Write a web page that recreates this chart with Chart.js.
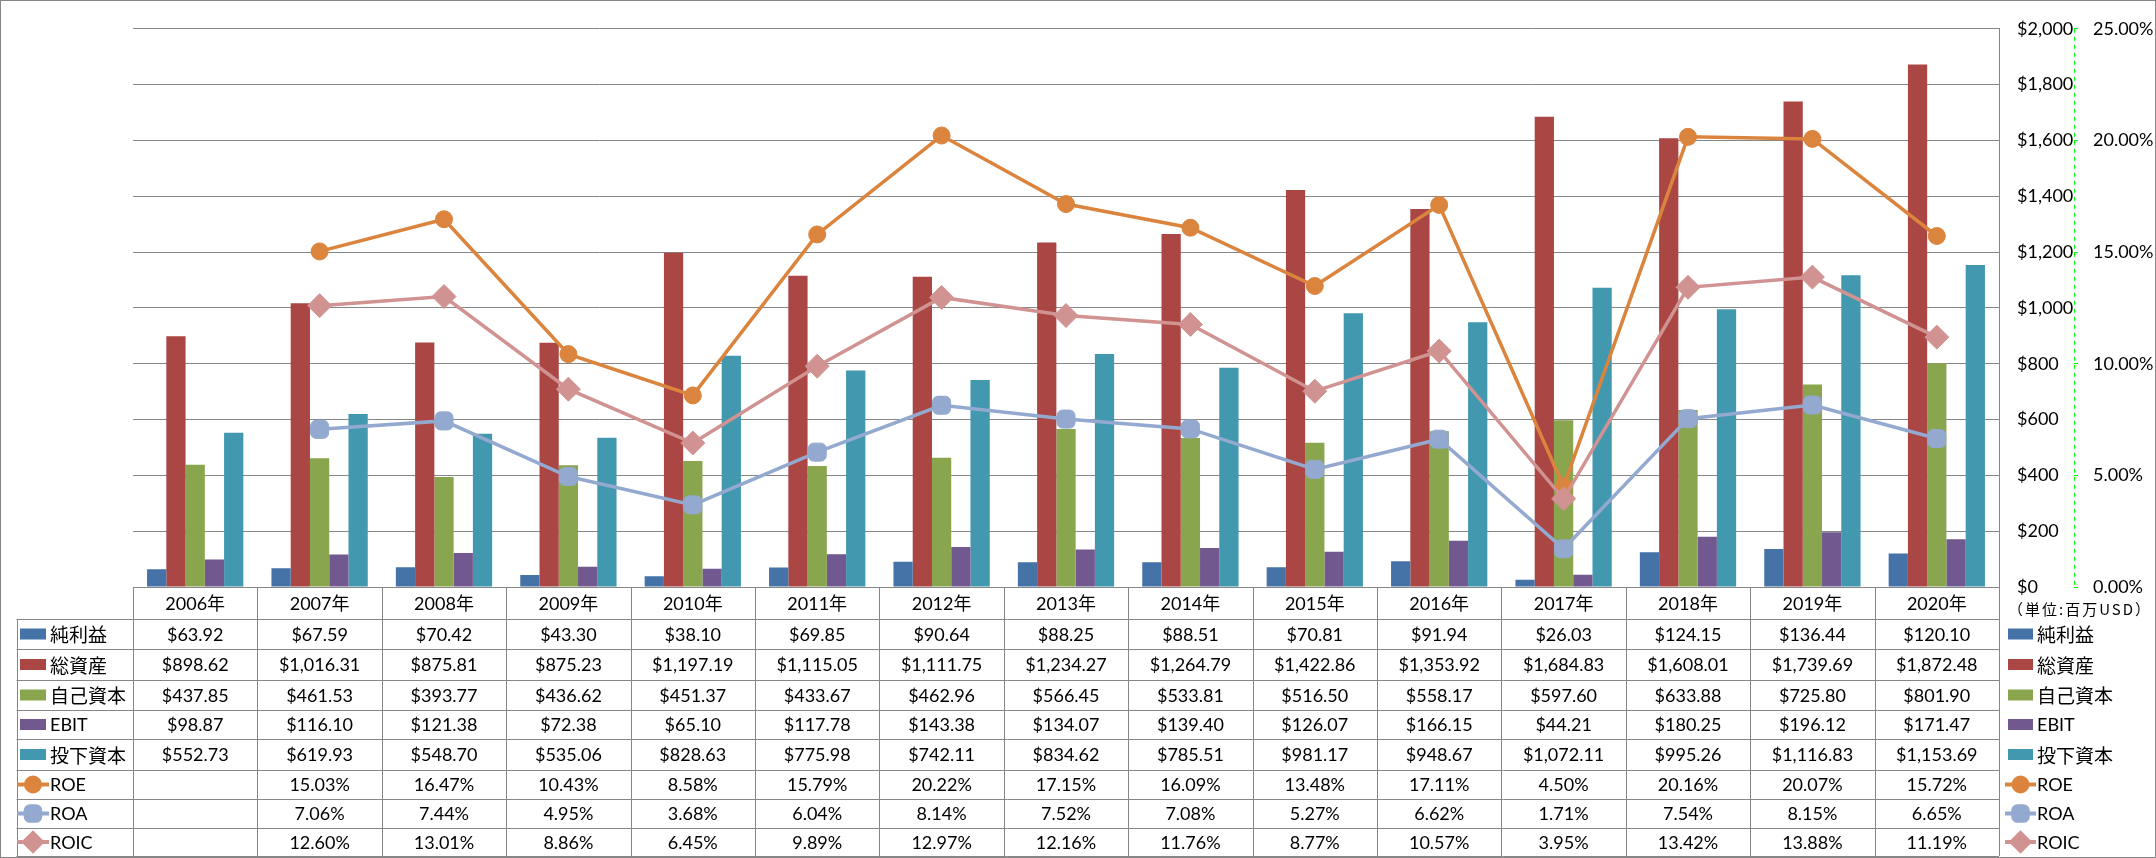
<!DOCTYPE html>
<html>
<head>
<meta charset="utf-8">
<script src="https://cdn.jsdelivr.net/npm/chart.js@4.4.0/dist/chart.umd.min.js"></script>
<style>
  body { margin: 0; background: #fff; }
  #wrap { width: 2156px; height: 858px; }
</style>
</head>
<body>
<div id="wrap"><canvas id="chart" width="2156" height="858"></canvas></div>
<script>
// 年度
const years = ['2006年', '2007年', '2008年', '2009年', '2010年', '2011年', '2012年', '2013年',
               '2014年', '2015年', '2016年', '2017年', '2018年', '2019年', '2020年'];

// 金額 (単位:百万USD)
const netIncome = [63.92, 67.59, 70.42, 43.30, 38.10, 69.85, 90.64, 88.25, 88.51, 70.81, 91.94, 26.03, 124.15, 136.44, 120.10];
const totalAssets = [898.62, 1016.31, 875.81, 875.23, 1197.19, 1115.05, 1111.75, 1234.27, 1264.79, 1422.86, 1353.92, 1684.83, 1608.01, 1739.69, 1872.48];
const equity = [437.85, 461.53, 393.77, 436.62, 451.37, 433.67, 462.96, 566.45, 533.81, 516.50, 558.17, 597.60, 633.88, 725.80, 801.90];
const ebit = [98.87, 116.10, 121.38, 72.38, 65.10, 117.78, 143.38, 134.07, 139.40, 126.07, 166.15, 44.21, 180.25, 196.12, 171.47];
const investedCapital = [552.73, 619.93, 548.70, 535.06, 828.63, 775.98, 742.11, 834.62, 785.51, 981.17, 948.67, 1072.11, 995.26, 1116.83, 1153.69];

// 比率 (%)
const roe = [null, 15.03, 16.47, 10.43, 8.58, 15.79, 20.22, 17.15, 16.09, 13.48, 17.11, 4.50, 20.16, 20.07, 15.72];
const roa = [null, 7.06, 7.44, 4.95, 3.68, 6.04, 8.14, 7.52, 7.08, 5.27, 6.62, 1.71, 7.54, 8.15, 6.65];
const roic = [null, 12.60, 13.01, 8.86, 6.45, 9.89, 12.97, 12.16, 11.76, 8.77, 10.57, 3.95, 13.42, 13.88, 11.19];

// 軸の目盛り
const moneyTicks = { min: 0, max: 2000, step: 200 };
const rateTicks = { min: 0, max: 25, step: 5 };

const NUM_FONT = 'Lato, "Noto Sans CJK JP", sans-serif';
const JP_FONT = '"Noto Sans CJK JP", sans-serif';
const GRID = '#868686';

// 表の行の境界 (px)
const rowEdges = [587, 619, 649, 680, 710, 739, 770, 799, 828, 856];

function money(v) {
    return '$' + v.toLocaleString('en-US', { minimumFractionDigits: 2, maximumFractionDigits: 2 });
}
function pct(v) {
    return v === null ? '' : v.toFixed(2) + '%';
}

// 系列の一覧 (表と凡例にも使う)
const series = [
    { label: '純利益', kind: 'bar', data: netIncome, color: '#4572A7' },
    { label: '総資産', kind: 'bar', data: totalAssets, color: '#AA4643' },
    { label: '自己資本', kind: 'bar', data: equity, color: '#89A54E' },
    { label: 'EBIT', kind: 'bar', data: ebit, color: '#71588F' },
    { label: '投下資本', kind: 'bar', data: investedCapital, color: '#4198AF' },
    { label: 'ROE', kind: 'line', data: roe, color: '#DB843D', style: 'circle', r: 8.5, lr: 7 },
    { label: 'ROA', kind: 'line', data: roa, color: '#93A9CF', style: 'rectRounded', r: 10.5, lr: 8.5 },
    { label: 'ROIC', kind: 'line', data: roic, color: '#D19392', style: 'rectRot', r: 12, lr: 9 }
];

const datasets = series.map((s, i) => {
    if (s.kind === 'bar') {
        return {
            type: 'bar', label: s.label, data: s.data, yAxisID: 'y',
            backgroundColor: s.color, borderWidth: 0,
            categoryPercentage: 0.774, barPercentage: 1.0, order: 10
        };
    }
    return {
        type: 'line', label: s.label, data: s.data, yAxisID: 'y2',
        borderColor: s.color, backgroundColor: s.color, borderWidth: 3.5,
        pointStyle: s.style, pointRadius: s.r, pointBorderWidth: 1,
        pointBackgroundColor: s.color, pointBorderColor: s.color,
        tension: 0, fill: false, order: 10 - i   // 後の系列を上に描く
    };
});

// 凡例のマーカー
function drawKey(ctx, s, x0, x1, cy) {
    ctx.save();
    if (s.kind === 'bar') {
        ctx.fillStyle = s.color;
        ctx.fillRect(x0, cy - 5.5, x1 - x0, 11);
    } else {
        ctx.strokeStyle = s.color;
        ctx.lineWidth = 4;
        ctx.beginPath();
        ctx.moveTo(x0 - 3, cy);
        ctx.lineTo(x1 + 3, cy);
        ctx.stroke();
        ctx.fillStyle = s.color;
        Chart.helpers.drawPoint(ctx, { pointStyle: s.style, radius: s.lr, rotation: 0, borderWidth: 1 }, (x0 + x1) / 2, cy);
    }
    ctx.restore();
}

function labelFont(text) {
    return /[^\x00-\x7f]/.test(text) ? '19px ' + JP_FONT : '18px ' + NUM_FONT;
}

// データテーブルを描くプラグイン
const dataTable = {
    id: 'dataTable',
    afterDraw(chart) {
        const ctx = chart.ctx;
        const xs = chart.scales.x;
        const area = chart.chartArea;
        const left = area.left, right = area.right;
        const colW = (right - left) / years.length;
        const top = rowEdges[0], bottom = rowEdges[rowEdges.length - 1];
        const legLeft = 16.5;
        const px = v => Math.round(v) + 0.5;

        ctx.save();
        // 比率軸の破線
        ctx.strokeStyle = '#00FF00';
        ctx.lineWidth = 1;
        ctx.setLineDash([4, 4]);
        ctx.beginPath();
        ctx.moveTo(px(chart.scales.y2.left), area.top);
        ctx.lineTo(px(chart.scales.y2.left), area.bottom);
        ctx.stroke();
        ctx.setLineDash([]);

        ctx.strokeStyle = GRID;
        ctx.beginPath();
        // 横線
        ctx.moveTo(left, px(top)); ctx.lineTo(right, px(top));
        for (let i = 1; i < rowEdges.length; i++) {
            ctx.moveTo(legLeft, px(rowEdges[i]));
            ctx.lineTo(right, px(rowEdges[i]));
        }
        // 縦線
        for (let i = 0; i <= years.length; i++) {
            const x = px(left + i * colW);
            ctx.moveTo(x, top); ctx.lineTo(x, bottom);
        }
        ctx.moveTo(px(legLeft), rowEdges[1]); ctx.lineTo(px(legLeft), bottom);
        ctx.stroke();

        ctx.fillStyle = '#000';
        ctx.textBaseline = 'middle';
        ctx.textAlign = 'center';

        // 見出し行
        ctx.font = '18px ' + NUM_FONT;
        years.forEach((y, i) => {
            ctx.fillText(y, xs.getPixelForValue(i), (rowEdges[0] + rowEdges[1]) / 2 + 1);
        });

        // 値の行
        series.forEach((s, r) => {
            const cy = (rowEdges[r + 1] + rowEdges[r + 2]) / 2 + 1;
            ctx.font = '18px ' + NUM_FONT;
            ctx.textAlign = 'center';
            s.data.forEach((v, i) => {
                const txt = s.kind === 'bar' ? money(v) : pct(v);
                ctx.fillText(txt, xs.getPixelForValue(i), cy);
            });
            // 左の凡例
            drawKey(ctx, s, 20, 46, cy - 1);
            ctx.textAlign = 'left';
            ctx.font = labelFont(s.label);
            ctx.fillText(s.label, 50, cy);
            // 右の凡例
            drawKey(ctx, s, 2008, 2033, cy - 1);
            ctx.fillText(s.label, 2037, cy);
        });

        // 単位
        ctx.font = '15px ' + JP_FONT;
        ctx.textAlign = 'left';
        ctx.letterSpacing = '2px';
        ctx.fillText('（単位:百万USD）', 2008, 609);
        ctx.letterSpacing = '0px';

        // 外枠
        ctx.strokeStyle = GRID;
        ctx.strokeRect(0.5, 0.5, chart.width - 1, chart.height - 1);
        ctx.restore();
    }
};

Chart.defaults.color = '#000';

new Chart(document.getElementById('chart').getContext('2d'), {
    data: { labels: years, datasets: datasets },
    plugins: [dataTable],
    options: {
        responsive: false,
        animation: false,
        layout: { padding: { left: 133, top: 13, right: 0, bottom: 271 } },
        plugins: { legend: { display: false }, tooltip: { enabled: false } },
        scales: {
            x: { type: 'category', display: false, offset: true, grid: { display: false } },
            y: {
                position: 'right',
                min: moneyTicks.min, max: moneyTicks.max,
                ticks: {
                    stepSize: moneyTicks.step, padding: 18,
                    font: { family: NUM_FONT, size: 18 },
                    callback: v => '$' + v.toLocaleString('en-US')
                },
                grid: { color: GRID, drawTicks: false },
                border: { display: true, color: GRID },
                afterFit: s => { s.width = 75; }
            },
            y2: {
                position: 'right',
                min: rateTicks.min, max: rateTicks.max,
                ticks: {
                    stepSize: rateTicks.step, padding: 15,
                    font: { family: NUM_FONT, size: 18 },
                    callback: v => v.toFixed(2) + '%'
                },
                grid: { drawOnChartArea: false, drawTicks: true, tickLength: 4, color: '#00FF00' },
                border: { display: false },
                afterFit: s => { s.width = 82; }
            }
        }
    }
});
</script>
</body>
</html>
